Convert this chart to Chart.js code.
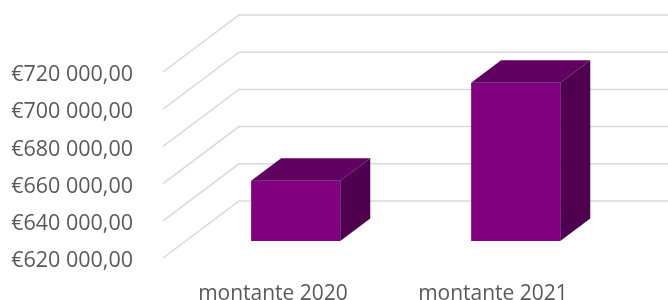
<!DOCTYPE html>
<html lang="pt">
<head>
  <meta charset="UTF-8" />
  <title>Montante 2020 / 2021</title>
  <script src="https://cdn.jsdelivr.net/npm/chart.js"></script>
  <style>
    body { margin: 0; padding: 0; background: #ffffff; }
    #wrap { width: 668px; height: 300px; }
  </style>
</head>
<body>
  <div id="wrap">
    <canvas id="chart" width="668" height="300"></canvas>
  </div>

  <script>
    // data
    const categories = ["montante 2020", "montante 2021"];
    const montante = [652400, 705100];
    const yTicks = [620000, 640000, 660000, 680000, 700000, 720000];

    // 3d look: floor depth and bar depth (pixels)
    const FLOOR_DX = 76, FLOOR_DY = 57;
    const BAR_OFF_X = 22.7, BAR_OFF_Y = 17;
    const BAR_DX = 30, BAR_DY = 22.5;

    function euro(v) {
      const s = String(Math.round(v)).replace(/\B(?=(\d{3})+(?!\d))/g, " ");
      return "€" + s + ",00";
    }

    const box3d = {
      id: "box3d",
      beforeDatasetsDraw(chart) {
        const ctx = chart.ctx;
        const y = chart.scales.y;
        const left = chart.chartArea.left;
        ctx.save();
        ctx.strokeStyle = "#d9d9d9";
        ctx.lineWidth = 1.5;
        yTicks.forEach(v => {
          const py = y.getPixelForValue(v);
          ctx.beginPath();
          ctx.moveTo(left, py);
          ctx.lineTo(left + FLOOR_DX, py - FLOOR_DY);
          ctx.lineTo(chart.width, py - FLOOR_DY);
          ctx.stroke();
        });
        ctx.restore();
        // bars sit in the middle of the floor depth
        ctx.save();
        ctx.translate(BAR_OFF_X, -BAR_OFF_Y);
      },
      afterDatasetsDraw(chart) {
        const ctx = chart.ctx;
        const floor = chart.chartArea.bottom;
        chart.getDatasetMeta(0).data.forEach(bar => {
          const l = bar.x - bar.width / 2, r = bar.x + bar.width / 2;
          const b = Math.min(bar.base, floor);
          ctx.fillStyle = "#600060";
          ctx.beginPath();
          ctx.moveTo(l, bar.y);
          ctx.lineTo(l + BAR_DX, bar.y - BAR_DY);
          ctx.lineTo(r + BAR_DX, bar.y - BAR_DY);
          ctx.lineTo(r, bar.y);
          ctx.closePath();
          ctx.fill();
          ctx.fillStyle = "#4f004f";
          ctx.beginPath();
          ctx.moveTo(r, bar.y);
          ctx.lineTo(r + BAR_DX, bar.y - BAR_DY);
          ctx.lineTo(r + BAR_DX, b - BAR_DY);
          ctx.lineTo(r, b);
          ctx.closePath();
          ctx.fill();
        });
        ctx.restore();
      }
    };

    new Chart(document.getElementById("chart"), {
      type: "bar",
      data: {
        labels: categories,
        datasets: [{
          data: montante,
          backgroundColor: "#800080",
          borderWidth: 0,
          barPercentage: 0.405,
          categoryPercentage: 1
        }]
      },
      options: {
        responsive: false,
        animation: false,
        layout: { padding: { top: 72, right: 65 } },
        plugins: {
          legend: { display: false },
          tooltip: { enabled: false }
        },
        scales: {
          x: {
            grid: { display: false },
            border: { display: false },
            ticks: {
              color: "#595959",
              padding: 15,
              font: { family: "Open Sans", size: 21 }
            },
            afterFit(s) { s.height = 42; }
          },
          y: {
            min: 620000,
            max: 720000,
            grid: { display: false },
            border: { display: false },
            afterBuildTicks(s) { s.ticks = yTicks.map(v => ({ value: v })); },
            ticks: {
              color: "#595959",
              padding: 22,
              labelOffset: 3,
              font: { family: "Open Sans", size: 21.5 },
              callback: v => euro(v)
            },
            afterFit(s) { s.width = 163; }
          }
        }
      },
      plugins: [box3d]
    });
  </script>
</body>
</html>
